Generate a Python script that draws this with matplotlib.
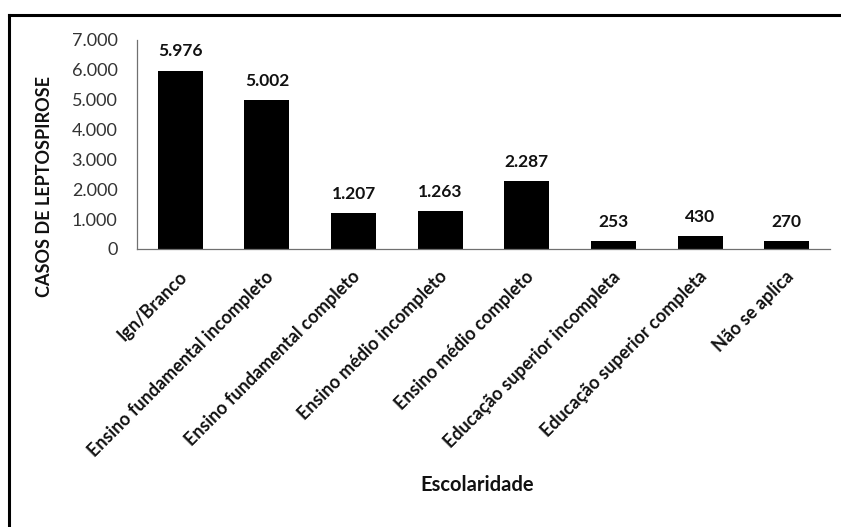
import matplotlib
matplotlib.use("Agg")
import matplotlib.pyplot as plt
from matplotlib.lines import Line2D
from matplotlib.transforms import ScaledTranslation

categories = ["Ign/Branco", "Ensino fundamental incompleto", "Ensino fundamental completo",
              "Ensino médio incompleto", "Ensino médio completo", "Educação superior incompleta",
              "Educação superior completa", "Não se aplica"]
values = [5976, 5002, 1207, 1263, 2287, 253, 430, 270]
yticks = [0, 1000, 2000, 3000, 4000, 5000, 6000, 7000]

def fmt(v):
    return f"{v:,}".replace(",", ".")

plt.rcParams['font.family'] = ['Lato', 'DejaVu Sans']

fig = plt.figure(figsize=(8.41, 5.27), dpi=100)
W, H = 841, 527
ax = fig.add_axes([137 / W, 1 - 249 / H, (830 - 137) / W, (249 - 40) / H])

x = list(range(len(categories)))
ax.bar(x, values, width=0.52, color="black")
ax.set_xlim(-0.5, len(categories) - 0.5)
ax.set_ylim(0, 7000)
ax.set_yticks(yticks)
ax.set_yticklabels([fmt(v) for v in yticks], fontsize=13, color="#333333")
ax.tick_params(axis="y", length=0, pad=14)
ax.tick_params(axis="x", length=0, pad=18)
ax.set_xticks(x)
ax.set_xticklabels(categories, rotation=45, ha="right", va="center", rotation_mode="anchor",
                   fontsize=13, fontweight="bold", color="#111111")
offset = ScaledTranslation(4 / 100, 0, fig.dpi_scale_trans)
for lbl in ax.get_xticklabels():
    lbl.set_transform(lbl.get_transform() + offset)

for s in ["top", "right"]:
    ax.spines[s].set_visible(False)
for s in ["left", "bottom"]:
    ax.spines[s].set_color("#707070")
    ax.spines[s].set_linewidth(0.9)

for xi, v in zip(x, values):
    ax.annotate(fmt(v), (xi, v), xytext=(0, 8), textcoords="offset points",
                ha="center", va="bottom", fontsize=12.5, fontweight="bold", color="#111111")

fig.text(477 / W, 1 - 485 / H, "Escolaridade", ha="center", va="center",
         fontsize=14.5, fontweight="bold", color="#111111")
fig.text(45 / W, 1 - 186 / H, "CASOS DE LEPTOSPIROSE", ha="center", va="center",
         rotation=90, fontsize=13, fontweight="bold", color="#111111")

# frame (top and left borders)
fig.add_artist(Line2D([9 / W, 1.0], [1 - 15 / H, 1 - 15 / H], transform=fig.transFigure,
                      color="black", linewidth=2.2))
fig.add_artist(Line2D([9 / W, 9 / W], [0, 1 - 15 / H], transform=fig.transFigure,
                      color="black", linewidth=2.2))

fig.savefig("out.png", dpi=100, facecolor="white")
